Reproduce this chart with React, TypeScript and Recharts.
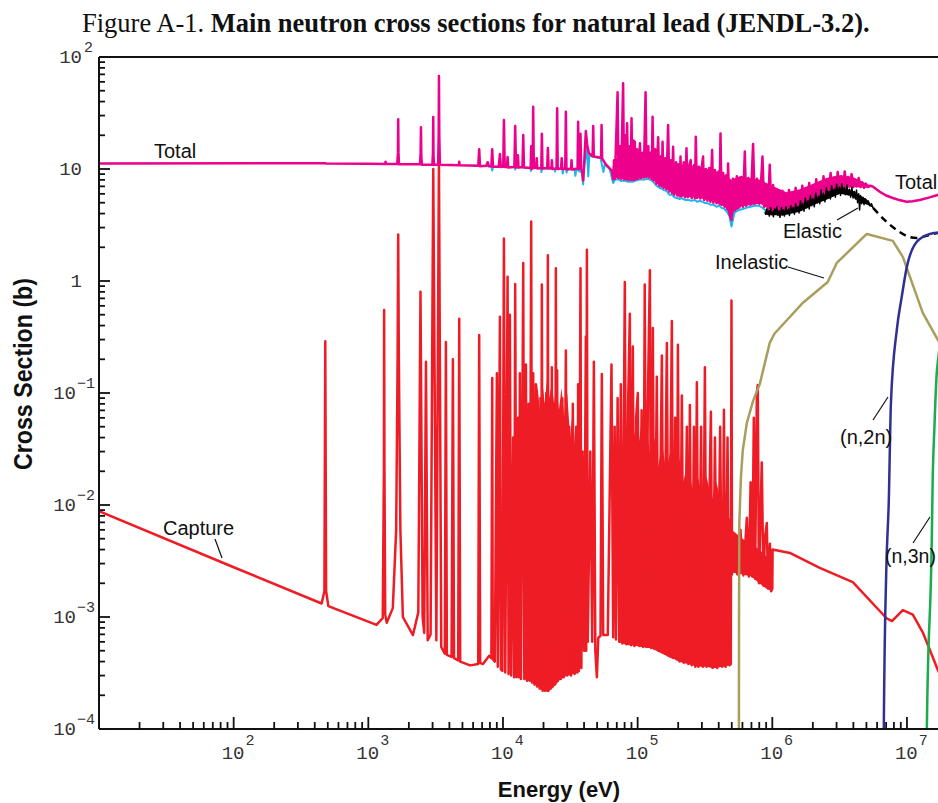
import { ComposedChart, Line, Area, XAxis, YAxis, ReferenceLine } from "recharts";

// energy (eV), cross section (b)
const TOTAL: [number, number][] = [
  [10, 11.2], [479, 11.25], [485, 11.2], [1000, 11.15], [1330, 11.1], [1343, 11.6], [1356, 11.1],
  [1640, 11.1], [1660, 14], [1667, 27.8], [1675, 14], [1690, 11.0],
  [2420, 11.0], [2445, 14], [2460, 23.6], [2475, 13], [2500, 10.9],
  [2990, 10.9], [3020, 14], [3035, 29.1], [3050, 13], [3080, 10.9],
  [3300, 10.9], [3330, 20], [3345, 67.6], [3365, 20], [3400, 10.9],
  [4700, 10.8], [4732, 11.6], [4770, 10.8],
  [6550, 10.7], [6656, 15.0], [6750, 10.6], [7500, 10.7], [7700, 11.5], [7850, 10.6],
  [8200, 10.6], [8318, 15.0], [8430, 10.5], [9300, 10.5], [9489, 13.6], [9650, 10.4],
  [10050, 10.5], [10160, 27.4], [10300, 10.4], [10700, 10.4], [10820, 12.8], [10950, 10.3],
  [12150, 10.4], [12320, 24.2], [12500, 10.3], [12800, 10.4], [12900, 13.3], [13050, 10.3],
  [13950, 10.4], [14140, 20.1], [14320, 10.3], [16050, 10.2], [16200, 16.0], [16350, 10.0],
  [16600, 10.3], [16760, 36.0], [16950, 10.2], [17600, 10.3], [17800, 12.5], [18000, 10.1],
  [19250, 10.2], [19440, 20.6], [19650, 10.1], [21300, 10.2], [21540, 15.4], [21800, 10.1],
  [22900, 10.2], [23060, 12.0], [23250, 10.0], [25000, 10.1], [25250, 34.8], [25500, 10.0],
  [27000, 10.1], [27300, 12.5], [27600, 10.0], [29000, 10.1], [29300, 32.5], [29600, 9.9],
  [32000, 10.1], [32300, 12.0], [32600, 9.9], [35800, 10.1], [36140, 26.4], [36500, 10.0],
  [37300, 10.0], [37640, 20.6], [38000, 10.0], [38800, 9.5], [39360, 7.9], [40200, 12],
  [41230, 21.8], [42300, 16], [43500, 13.8], [46300, 13.0], [46770, 24.2], [47250, 12.9],
  [50000, 12.8], [53500, 12.6], [53960, 24.7], [54500, 12.4], [58000, 11.0], [62200, 10.1],
  [64500, 9.6], [65800, 8.1], [66800, 12], [67800, 8.2], [70970, 48.4], [72000, 8.3],
  [74000, 16], [75500, 8.2], [78000, 58.2], [79200, 8.1], [81000, 20], [82000, 8.1],
  [83500, 25.6], [85000, 8.0], [87000, 16], [88500, 8.0], [90100, 28.4], [91500, 8.0],
  [93000, 18], [94200, 8.0], [95300, 17.5], [97000, 8.1], [99000, 15], [101000, 8.2],
  [104000, 17], [106000, 8.3], [109000, 14], [111000, 8.4], [114500, 48.4], [116500, 8.5],
  [120000, 16], [122000, 8.4], [125000, 14], [127000, 8.2], [129100, 29.3], [131500, 7.9],
  [135000, 15], [138000, 7.4], [142000, 19.2], [145000, 7.1], [149000, 13], [151000, 7.0],
  [153100, 17.5], [156000, 6.8], [160000, 12.5], [163500, 6.6], [168400, 24.7], [172000, 6.3],
  [177000, 12], [180000, 6.1], [183400, 15.8], [187000, 5.9], [193000, 11.5], [197000, 5.8],
  [202000, 11], [205000, 5.7], [208100, 12.9], [212000, 5.7], [220000, 11.5], [225000, 5.6],
  [230500, 15.3], [236000, 5.6], [243000, 11], [248100, 12.0], [252000, 5.5], [262000, 10.8],
  [266000, 5.5], [270300, 19.4], [276000, 5.5], [285000, 10.5], [292000, 5.45], [299000, 10.4],
  [306100, 12.9], [312000, 5.3], [322000, 10.0], [330000, 5.2], [340000, 10.2], [347000, 5.1],
  [357200, 14.8], [365000, 5.0], [375000, 9.8], [385000, 4.94], [398000, 9.5], [405000, 4.9],
  [412400, 20.8], [420000, 4.8], [432000, 9.2], [442000, 4.6], [455000, 8.8], [463000, 4.4],
  [469300, 11.2], [480000, 4.0], [497500, 3.51], [510000, 8.2], [525000, 4.3], [545000, 8.6],
  [560000, 4.5], [573000, 4.61], [590000, 8.5], [605000, 4.6], [625000, 14.3], [640000, 4.7],
  [665000, 8.3], [690000, 4.8], [720000, 16.7], [740000, 4.9], [770000, 8.2], [800000, 4.9],
  [825000, 7.6], [845000, 12.9], [870000, 4.6], [900000, 7.3], [930000, 4.3], [957000, 10.9],
  [985000, 4.2], [1.014e6, 7.2], [1.04e6, 4.3], [1.07e6, 6.6], [1.1e6, 4.1], [1.13e6, 5.6],
  [1.16e6, 4.25], [1.19e6, 6.4], [1.22e6, 4.1], [1.26e6, 5.8], [1.29e6, 4.3], [1.33e6, 6.5],
  [1.37e6, 4.2], [1.41e6, 6.0], [1.45e6, 4.5], [1.49e6, 6.8], [1.53e6, 4.4], [1.58e6, 6.3],
  [1.62e6, 4.8], [1.67e6, 7.1], [1.72e6, 4.7], [1.77e6, 6.6], [1.82e6, 5.1], [1.88e6, 7.5],
  [1.94e6, 5.0], [2.0e6, 7.0], [2.06e6, 5.4], [2.12e6, 8.1], [2.19e6, 5.5], [2.26e6, 7.5],
  [2.33e6, 6.0], [2.4e6, 8.6], [2.47e6, 6.0], [2.55e6, 8.0], [2.63e6, 6.4], [2.71e6, 9.2],
  [2.79e6, 6.4], [2.88e6, 8.4], [2.97e6, 6.7], [3.06e6, 9.4], [3.15e6, 6.6], [3.25e6, 8.6],
  [3.35e6, 6.9], [3.45e6, 9.5], [3.55e6, 6.8], [3.66e6, 8.5], [3.77e6, 7.0], [3.88e6, 9.0],
  [4.0e6, 6.9], [4.12e6, 8.0], [4.25e6, 7.0], [4.38e6, 8.3], [4.52e6, 6.9], [4.66e6, 7.6],
  [4.8e6, 6.8], [4.95e6, 7.4], [5.1e6, 6.9], [5.35e6, 7.1], [5.6e6, 6.95],
  [6.28e6, 6.27], [7.0e6, 5.8], [7.85e6, 5.51], [8.9e6, 5.25], [9.97e6, 5.1], [1.1e7, 5.15],
  [1.245e7, 5.28], [1.45e7, 5.55], [1.69e7, 5.86], [2.0e7, 6.2],
];

// solid part of the total above ~70 keV: [E, low, high]
const TOTAL_BAND: [number, number, number][] = [
  [66000, 8.3, 12], [80000, 8.1, 14], [95000, 8.1, 14], [123000, 8.5, 13.5], [146000, 7.1, 12.5],
  [206000, 5.7, 11], [290000, 5.5, 10.4], [385000, 5.0, 9.5], [444000, 4.6, 8.8], [497500, 3.6, 8],
  [573000, 4.6, 8.6], [807000, 4.9, 8.0], [1.014e6, 4.2, 7.0], [1.274e6, 4.2, 6.2],
  [1.6e6, 4.6, 6.6], [2.01e6, 5.2, 7.4], [2.52e6, 6.1, 8.3], [3.17e6, 6.6, 8.8],
  [3.96e6, 6.9, 8.5], [5.0e6, 6.8, 7.4], [5.6e6, 6.9, 7.0],
];

// elastic in the resonance region (peeks out below the total in the dips)
const ELASTIC_RES: [number, number][] = [
  [6000, 10.7], [8200, 10.6], [8318, 9.7], [8450, 10.5], [12200, 10.4], [12320, 9.9], [12450, 10.4],
  [16000, 10.2], [16100, 9.6], [16250, 10.2], [19100, 10.2], [19300, 9.4], [19500, 10.1],
  [24200, 10.1], [24400, 9.5], [24600, 10.1], [27500, 10.0], [27800, 9.1], [28100, 10.0],
  [29500, 9.9], [29700, 9.3], [29900, 9.9], [34000, 9.9], [34500, 8.7], [35000, 9.9],
  [38500, 9.3], [39360, 7.3], [40300, 11], [42000, 15], [43000, 8.6], [43800, 13.5],
  [46000, 12.9], [53000, 12.5], [55700, 9.4], [57000, 11], [62000, 10.0], [65800, 7.5],
  [67800, 8.0], [72000, 8.1], [75500, 7.8], [79200, 7.9], [85000, 7.7], [91500, 7.7],
  [97000, 7.9], [106000, 8.1], [111000, 8.0], [116500, 8.2], [122000, 8.1], [127000, 7.9],
  [131500, 7.6], [138000, 7.1], [145000, 6.8], [151000, 6.7], [156000, 6.5], [163500, 6.4],
  [172000, 5.9], [180000, 5.9], [187000, 5.6], [197000, 5.5], [205000, 5.4], [212000, 5.5],
  [225000, 5.3], [236000, 5.3], [252000, 5.2], [266000, 5.3], [276000, 5.1], [292000, 5.2],
  [312000, 5.0], [330000, 4.95], [347000, 4.8], [365000, 4.8], [385000, 4.6], [405000, 4.7],
  [420000, 4.5], [442000, 4.4], [463000, 4.1], [480000, 3.8], [497500, 3.06], [525000, 4.1],
  [560000, 4.3], [605000, 4.4], [640000, 4.5], [690000, 4.6], [740000, 4.7], [800000, 4.7],
  [870000, 4.4], [930000, 4.1], [985000, 4.0], [1.0e6, 4.05],
];

const ELASTIC_FAST: [number, number][] = [
  [8.8e5, 4.1], [8.95e5, 3.95], [9.1e5, 4.4], [9.2e5, 4.0], [9.35e5, 4.2], [9.5e5, 3.8],
  [9.7e5, 4.5], [9.85e5, 3.9], [1.0e6, 4.1], [1.02e6, 3.75], [1.04e6, 4.4], [1.06e6, 4.0],
  [1.08e6, 4.6], [1.1e6, 3.85], [1.12e6, 4.2], [1.14e6, 3.7], [1.17e6, 4.5], [1.19e6, 3.9],
  [1.21e6, 4.3], [1.23e6, 3.8], [1.26e6, 4.6], [1.29e6, 4.0], [1.31e6, 4.3], [1.34e6, 3.85],
  [1.37e6, 4.7], [1.4e6, 4.1], [1.43e6, 4.5], [1.46e6, 3.95], [1.49e6, 4.9], [1.52e6, 4.2],
  [1.55e6, 4.6], [1.58e6, 4.05], [1.62e6, 5.2], [1.65e6, 4.3], [1.69e6, 4.9], [1.72e6, 4.2],
  [1.76e6, 5.5], [1.8e6, 4.5], [1.84e6, 5.2], [1.88e6, 4.4], [1.92e6, 5.8], [1.96e6, 4.7],
  [2.0e6, 5.4], [2.05e6, 4.6], [2.1e6, 6.1], [2.15e6, 5.0], [2.2e6, 5.7], [2.25e6, 4.9],
  [2.3e6, 6.5], [2.35e6, 5.3], [2.4e6, 6.0], [2.46e6, 5.1], [2.52e6, 6.8], [2.58e6, 5.5],
  [2.64e6, 6.3], [2.7e6, 5.4], [2.76e6, 7.1], [2.82e6, 5.8], [2.88e6, 6.6], [2.94e6, 5.6],
  [3.0e6, 7.3], [3.07e6, 6.0], [3.14e6, 6.9], [3.21e6, 5.8], [3.28e6, 7.4], [3.35e6, 6.1],
  [3.42e6, 6.8], [3.5e6, 5.9], [3.58e6, 7.2], [3.66e6, 5.9], [3.74e6, 6.6], [3.82e6, 5.6],
  [3.9e6, 6.9], [3.98e6, 5.5], [4.06e6, 6.3], [4.14e6, 5.4], [4.22e6, 6.5], [4.3e6, 5.0],
  [4.38e6, 6.0], [4.45e6, 4.3], [4.52e6, 5.8], [4.6e6, 4.9], [4.7e6, 5.6], [4.8e6, 4.8],
  [4.9e6, 5.4], [5.0e6, 4.9], [5.15e6, 5.2], [5.3e6, 4.7], [5.45e6, 4.9], [5.6e6, 4.49],
];

const ELASTIC_BAND: [number, number, number][] = [
  [8.8e5, 3.9, 4.3], [1.2e6, 3.85, 4.3], [1.6e6, 4.15, 4.9], [2.0e6, 4.75, 5.6], [2.5e6, 5.3, 6.3],
  [3.17e6, 6.0, 6.8], [3.96e6, 5.7, 6.4], [4.47e6, 5.0, 5.8], [5.0e6, 4.85, 5.4], [5.6e6, 4.5, 4.6],
];

const ELASTIC_SMOOTH: [number, number][] = [
  [5.6e6, 4.49], [6.84e6, 3.5], [8.4e6, 2.85], [9.97e6, 2.52], [1.18e7, 2.42], [1.48e7, 2.58],
  [1.69e7, 2.68], [2.0e7, 2.75],
];

const INELASTIC: [number, number][] = [
  [5.64e5, 1e-5], [5.66e5, 1e-3], [5.69e5, 6.9e-3], [5.85e5, 0.018], [6.04e5, 0.031],
  [6.47e5, 0.054], [7.2e5, 0.085], [8.07e5, 0.12], [9.57e5, 0.28], [1.04e6, 0.34],
  [1.69e6, 0.64], [2.58e6, 0.98], [3.01e6, 1.45], [5.03e6, 2.63], [7.85e6, 2.28],
  [9.32e6, 1.64], [1.31e7, 0.52], [1.69e7, 0.30], [2.0e7, 0.2],
];

const N2N: [number, number][] = [
  [6.7e6, 1e-5], [6.73e6, 1e-4], [7.02e6, 2.6e-3], [7.33e6, 0.011], [7.6e6, 0.081],
  [8.4e6, 0.365], [9.14e6, 0.72], [9.97e6, 1.33], [1.18e7, 2.23], [1.48e7, 2.63],
  [1.69e7, 2.7], [2.0e7, 2.7],
];

const N3N: [number, number][] = [
  [1.4e7, 1e-5], [1.405e7, 1e-4], [1.53e7, 5.2e-3], [1.55e7, 0.015], [1.6e7, 0.05],
  [1.67e7, 0.16], [2.0e7, 0.5],
];

const CAPTURE: [number, number][] = [
  [10, 8.8e-3], [100, 2.78e-3], [450, 1.32e-3], [472, 1.7e-3], [479, 0.29], [486, 1.7e-3],
  [505, 1.25e-3], [1150, 8.5e-4], [1280, 9.8e-4], [1305, 0.02], [1310, 0.55], [1318, 0.02],
  [1335, 1.05e-3], [1370, 8.9e-4], [1520, 1.2e-3], [1610, 6e-3], [1650, 0.2], [1667, 2.6],
  [1685, 0.2], [1730, 6e-3], [1805, 1.0e-3], [2145, 6.9e-4], [2350, 1.1e-3], [2440, 0.8],
  [2530, 1e-3], [2600, 7.2e-4], [2680, 0.19], [2760, 6.2e-4], [2900, 7e-4], [3035, 10],
  [3200, 6.2e-4], [3345, 12], [3480, 5.4e-4], [3700, 4.7e-4], [3767, 0.285], [3830, 4.6e-4],
  [4150, 4.4e-4], [4246, 0.2], [4330, 4.3e-4], [4650, 4.1e-4], [4732, 0.46], [4810, 4.0e-4],
  [5700, 3.7e-4], [6550, 3.8e-4], [6656, 0.33], [6770, 3.9e-4], [7096, 3.8e-4], [7900, 4.5e-4],
  [8200, 4.3e-4], [8318, 0.136], [8400, 4.2e-4], [8700, 4.0e-4], [9012, 0.15], [9150, 3.6e-4],
  [9489, 0.48], [9650, 3.4e-4], [9900, 3.3e-4], [10160, 2.4], [10400, 3.2e-4], [10820, 1.09],
  [11000, 3.1e-4], [11250, 0.5], [11500, 3.0e-4], [11900, 0.04], [12100, 2.9e-4], [12320, 0.94],
  [12600, 2.9e-4], [12950, 0.06], [13150, 2.9e-4], [13350, 0.15], [13600, 2.8e-4], [14140, 1.45],
  [14400, 2.8e-4], [14800, 0.18], [15100, 2.7e-4], [15500, 0.08], [15800, 2.7e-4], [16200, 3.4],
  [16450, 2.6e-4], [16760, 0.15], [17100, 2.5e-4], [17550, 0.12], [17900, 2.4e-4], [18300, 0.06],
  [18700, 2.3e-4], [19000, 0.09], [19200, 2.3e-4], [19440, 0.93], [19700, 2.2e-4], [20100, 0.07],
  [20500, 2.2e-4], [21000, 0.1], [21300, 2.2e-4], [21540, 1.7], [21800, 2.2e-4], [22300, 0.08],
  [22700, 2.3e-4], [23060, 0.17], [23400, 2.4e-4], [24000, 0.07], [24400, 2.5e-4], [24700, 1.3],
  [24950, 2.6e-4], [25250, 0.16], [25600, 2.7e-4], [26300, 0.06], [26900, 2.8e-4], [27600, 0.09],
  [28300, 2.9e-4], [29300, 0.24], [30000, 3.0e-4], [31000, 0.05], [32000, 3.0e-4], [33000, 0.08],
  [34000, 3.1e-4], [35000, 0.05], [35700, 3.2e-4], [36140, 0.12], [36600, 3.3e-4], [37640, 1.3],
  [38200, 3.5e-4], [39000, 0.03], [40000, 5e-4], [41230, 0.32], [41500, 5e-4], [41980, 1.9],
  [42600, 6e-4], [44500, 0.03], [46000, 6e-4], [47300, 0.19], [48500, 5e-4], [49800, 2.9e-4],
  [51000, 6.5e-4], [53000, 6.8e-4], [54200, 0.148], [55500, 6.9e-4], [60000, 6.9e-4],
  [63950, 0.18], [65800, 6.6e-4], [67500, 0.05], [69000, 6.3e-4], [71000, 0.09], [73000, 6.0e-4],
  [75000, 0.12], [77000, 5.8e-4], [80300, 0.98], [82500, 5.7e-4], [85000, 0.08], [87500, 0.51],
  [89500, 5.6e-4], [92100, 0.26], [94500, 5.5e-4], [97500, 0.06], [100300, 0.1], [103000, 5.5e-4],
  [107000, 0.07], [110000, 5.4e-4], [112900, 0.93], [116000, 5.4e-4], [119000, 0.08],
  [123300, 1.25], [126000, 5.3e-4], [129700, 0.38], [133000, 5.2e-4], [138800, 0.14],
  [143000, 5.0e-4], [151300, 0.216], [156000, 4.8e-4], [164800, 0.28], [170000, 4.5e-4],
  [179500, 0.44], [184000, 4.3e-4], [190000, 0.06], [195000, 4.2e-4], [199000, 0.27],
  [205000, 4.0e-4], [213000, 0.095], [220000, 3.9e-4], [232000, 0.05], [238000, 3.8e-4],
  [244200, 0.078], [252000, 3.7e-4], [262000, 0.05], [268000, 3.6e-4], [275200, 0.125],
  [283000, 3.6e-4], [296000, 0.05], [305000, 3.6e-4], [315700, 0.17], [325000, 3.6e-4],
  [349900, 0.068], [360000, 3.5e-4], [375000, 0.04], [390000, 3.5e-4], [410000, 0.05],
  [425000, 3.6e-4], [437300, 0.071], [450000, 3.6e-4], [465000, 0.04], [480000, 3.7e-4],
  [492000, 3.8e-4], [497500, 0.67], [502000, 2.4e-3], [5.2e5, 5e-3], [5.5e5, 2.4e-3],
  [5.8e5, 6e-3], [6.1e5, 2.35e-3], [6.47e5, 7.7e-3], [6.7e5, 2.3e-3], [6.9e5, 0.016],
  [7.1e5, 2.3e-3], [7.29e5, 0.06], [7.45e5, 2.2e-3], [7.68e5, 0.1], [7.8e5, 0.118],
  [7.95e5, 2.0e-3], [8.35e5, 0.024], [8.6e5, 1.9e-3], [8.8e5, 5e-3], [9.1e5, 6.9e-3],
  [9.3e5, 1.8e-3], [9.6e5, 4.5e-3], [9.8e5, 1.7e-3], [1.0e6, 1.8e-3], [1.005e6, 4.0e-3],
  [1.35e6, 3.73e-3], [2.25e6, 2.74e-3], [3.96e6, 2.05e-3], [7.08e6, 9.7e-4], [7.73e6, 9.2e-4],
  [9.32e6, 1.15e-3], [1.105e7, 1.05e-3], [1.31e7, 7.3e-4], [1.69e7, 3.4e-4], [2.0e7, 2.2e-4],
];

// solid parts of the capture resonance forest: [E, low, high]
const CAPTURE_BAND_A: [number, number, number][] = [
  [14500, 2.8e-4, 0.008], [15200, 2.7e-4, 0.03], [15800, 2.7e-4, 0.015], [16500, 2.6e-4, 0.07],
  [17200, 2.5e-4, 0.04], [18000, 2.4e-4, 0.12], [18800, 2.3e-4, 0.07], [19600, 2.2e-4, 0.13],
  [20400, 2.2e-4, 0.08], [21200, 2.2e-4, 0.13], [22000, 2.2e-4, 0.09], [23000, 2.3e-4, 0.12],
  [24000, 2.4e-4, 0.08], [25000, 2.6e-4, 0.12], [26000, 2.7e-4, 0.07], [27200, 2.8e-4, 0.11],
  [28500, 2.9e-4, 0.06], [30000, 3.0e-4, 0.1], [31500, 3.0e-4, 0.04], [33000, 3.1e-4, 0.07],
  [34500, 3.1e-4, 0.03], [36000, 3.2e-4, 0.05], [37000, 3.3e-4, 0.015],
];
const CAPTURE_BAND_B: [number, number, number][] = [
  [74000, 5.9e-4, 0.01], [77000, 5.8e-4, 0.025], [80000, 5.7e-4, 0.02], [85000, 5.6e-4, 0.04],
  [90000, 5.6e-4, 0.025], [95000, 5.5e-4, 0.045], [100000, 5.5e-4, 0.03], [106000, 5.4e-4, 0.05],
  [112000, 5.4e-4, 0.03], [118000, 5.3e-4, 0.045], [125000, 5.3e-4, 0.025], [133000, 5.1e-4, 0.04],
  [142000, 4.9e-4, 0.022], [152000, 4.7e-4, 0.035], [163000, 4.5e-4, 0.02], [175000, 4.3e-4, 0.03],
  [188000, 4.2e-4, 0.018], [202000, 4.0e-4, 0.028], [218000, 3.9e-4, 0.016], [235000, 3.8e-4, 0.024],
  [255000, 3.7e-4, 0.014], [275000, 3.6e-4, 0.02], [300000, 3.6e-4, 0.012], [325000, 3.6e-4, 0.018],
  [355000, 3.5e-4, 0.011], [385000, 3.5e-4, 0.016], [420000, 3.6e-4, 0.01], [450000, 3.6e-4, 0.013],
  [475000, 3.7e-4, 0.008], [490000, 3.8e-4, 0.007],
];
const CAPTURE_BAND_C: [number, number, number][] = [
  [500000, 2.5e-3, 6e-3], [600000, 2.4e-3, 5e-3], [700000, 2.3e-3, 4.5e-3],
  [800000, 2.0e-3, 4e-3], [900000, 1.8e-3, 3.5e-3], [1000000, 1.7e-3, 3e-3],
];

const X_MAX = 1.7e7;
const X_DECADES = [10, 100, 1e3, 1e4, 1e5, 1e6, 1e7];
const Y_DECADES = [1e-4, 1e-3, 1e-2, 1e-1, 1, 10];
const MULTS = [1, 2, 3, 4, 5, 6, 7, 8, 9];
const X_TICKS = X_DECADES.flatMap((d) => MULTS.map((m) => m * d)).filter((v) => v <= X_MAX);
const Y_TICKS = [...Y_DECADES.flatMap((d) => MULTS.map((m) => m * d)), 100];

const MONO = "'Liberation Mono', 'DejaVu Sans Mono', monospace";
const SANS = "'Liberation Sans', Arial, sans-serif";
const SERIF = "'Liberation Serif', 'Times New Roman', serif";

const pts = (rows: [number, number][]) => rows.map(([e, s]) => ({ e, s }));
const band = (rows: [number, number, number][]) => rows.map(([e, lo, hi]) => ({ e, r: [lo, hi] }));

const decadeOf = (v: number) => {
  const l = Math.log10(v);
  return Math.abs(l - Math.round(l)) < 1e-6 ? Math.round(l) : null;
};

function XTick({ x, y, payload }: any) {
  const exp = decadeOf(payload.value);
  return (
    <g>
      <line x1={x} x2={x} y1={y} y2={y - (exp !== null ? 12 : 7)} stroke="#111" strokeWidth={1.8} />
      {exp !== null && exp >= 2 && (
        <text y={y + 30} fontFamily={MONO} fontSize={19} fill="#333">
          <tspan x={x - 12}>10</tspan>
          <tspan dx={1} dy={-14} fontSize={15}>{exp}</tspan>
        </text>
      )}
    </g>
  );
}

function YTick({ x, y, payload }: any) {
  const exp = decadeOf(payload.value);
  const label = () => {
    if (exp === null) return null;
    if (exp === 0)
      return <text x={x - 17} y={y + 6} textAnchor="end" fontFamily={MONO} fontSize={19} fill="#333">1</text>;
    const neg = exp < 0;
    return (
      <g fontFamily={MONO} fill="#333">
        <text x={x - (neg ? 23 : 17)} y={y + 6} textAnchor="end" fontSize={19}>10</text>
        {exp !== 1 && (
          <text x={x - (neg ? 22 : 15)} y={y - 5} fontSize={15}>{neg ? `\u2212${-exp}` : exp}</text>
        )}
      </g>
    );
  };
  return (
    <g>
      <line x1={x} x2={x + (exp !== null ? 11 : 6)} y1={y} y2={y} stroke="#111" strokeWidth={1.8} />
      {label()}
    </g>
  );
}

const lineProps = { dot: false, activeDot: false, isAnimationActive: false, dataKey: "s", strokeLinejoin: "round" as const };
const areaProps = { isAnimationActive: false, dataKey: "r", stroke: "none", fillOpacity: 1, activeDot: false, dot: false };

export default function App() {
  return (
    <div style={{ position: "absolute", left: 0, top: 0, width: 938, height: 803, background: "#fff", overflow: "hidden" }}>
      <ComposedChart width={938} height={803} margin={{ top: 57, right: 0, bottom: 0, left: 0 }}>
        <XAxis
          type="number" dataKey="e" scale="log" domain={[10, X_MAX]} allowDataOverflow
          ticks={X_TICKS} interval={0} tick={(p: any) => <XTick {...p} />}
          tickLine={false} tickSize={0} tickMargin={0} height={74}
          axisLine={{ stroke: "#111", strokeWidth: 2 }}
        />
        <YAxis
          type="number" scale="log" domain={[1e-4, 100]} allowDataOverflow
          ticks={Y_TICKS} interval={0} tick={(p: any) => <YTick {...p} />}
          tickLine={false} tickSize={0} tickMargin={0} width={99}
          axisLine={{ stroke: "#111", strokeWidth: 2 }}
        />
        <ReferenceLine y={100} stroke="#111" strokeWidth={2} />

        <Area {...areaProps} data={band(CAPTURE_BAND_A)} fill="#ee1c25" />
        <Area {...areaProps} data={band(CAPTURE_BAND_B)} fill="#ee1c25" />
        <Area {...areaProps} data={band(CAPTURE_BAND_C)} fill="#ee1c25" />
        <Line {...lineProps} data={pts(CAPTURE)} stroke="#ee1c25" strokeWidth={2.5} />

        <Line {...lineProps} data={pts(ELASTIC_RES)} stroke="#1fb5ea" strokeWidth={2} />
        <Area {...areaProps} data={band(TOTAL_BAND)} fill="#ec008c" />
        <Line {...lineProps} data={pts(TOTAL)} stroke="#ec008c" strokeWidth={2.5} />

        <Area {...areaProps} data={band(ELASTIC_BAND)} fill="#000" />
        <Line {...lineProps} data={pts(ELASTIC_FAST)} stroke="#000" strokeWidth={1.5} />
        <Line {...lineProps} data={pts(ELASTIC_SMOOTH)} stroke="#000" strokeWidth={2.5} strokeDasharray="7 5" type="monotone" />

        <Line {...lineProps} data={pts(INELASTIC)} stroke="#a89f5e" strokeWidth={2.5} />
        <Line {...lineProps} data={pts(N2N)} stroke="#2e3192" strokeWidth={2.5} type="monotone" />
        <Line {...lineProps} data={pts(N3N)} stroke="#1aab4b" strokeWidth={2.5} type="monotone" />
      </ComposedChart>

      <svg width={938} height={803} style={{ position: "absolute", left: 0, top: 0, pointerEvents: "none" }}>
        <text x={82} y={32} fontFamily={SERIF} fontSize={26.5} fill="#111">
          <tspan>Figure A-1. </tspan>
          <tspan fontWeight="bold">Main neutron cross sections for natural lead (JENDL-3.2).</tspan>
        </text>
        <text x={559} y={797} textAnchor="middle" fontFamily={SANS} fontWeight="bold" fontSize={22} fill="#111">
          Energy (eV)
        </text>
        <text
          transform="translate(32,374) rotate(-90)" textAnchor="middle" fontFamily={SANS}
          fontWeight="bold" fontSize={26} fill="#111" textLength={192} lengthAdjust="spacingAndGlyphs"
        >
          Cross Section (b)
        </text>

        <g fontFamily={SANS} fontSize={20} fill="#111">
          <text x={154} y={158}>Total</text>
          <text x={895} y={189}>Total</text>
          <text x={783} y={238}>Elastic</text>
          <text x={715} y={269}>Inelastic</text>
          <text x={840} y={444}>(n,2n)</text>
          <text x={885} y={563} fontSize={19.5}>(n,3n)</text>
          <text x={163} y={535}>Capture</text>
        </g>
        <g stroke="#111" strokeWidth={1.2}>
          <line x1={837} y1={220} x2={858} y2={208} />
          <line x1={788} y1={267} x2={824} y2={278} />
          <line x1={873} y1={420} x2={888} y2={397} />
          <line x1={913} y1={543} x2={930} y2={517} />
          <line x1={215} y1={539} x2={222} y2={558} />
        </g>
      </svg>
    </div>
  );
}
